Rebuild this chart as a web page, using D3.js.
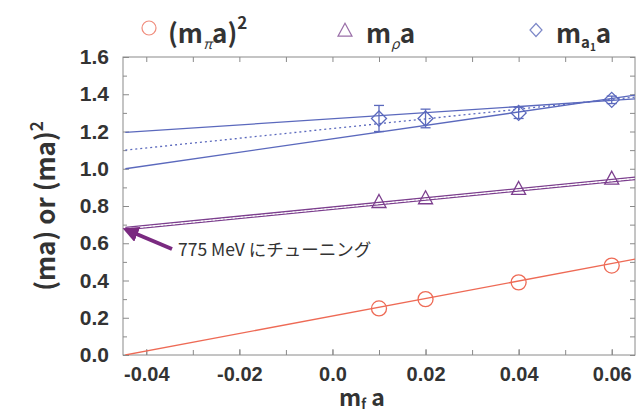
<!DOCTYPE html>
<html>
<head>
<meta charset="utf-8">
<script src="https://cdn.jsdelivr.net/npm/d3@7"></script>
<style>
  body { margin: 0; background: #fff; }
  svg { font-family: "Noto Sans CJK JP", "Noto Sans", sans-serif; }
</style>
</head>
<body>
<svg id="chart" width="641" height="418"></svg>
<script>
// measured points
const mfa = [0.01, 0.02, 0.04, 0.06];
const pionSq = [0.25, 0.30, 0.39, 0.48];
const rho = [0.82, 0.84, 0.89, 0.945];
const a1 = [1.27, 1.27, 1.30, 1.37];
const a1Err = [0.07, 0.05, 0.03, 0.02];

// fit lines (x ends, y ends)
const fitX = [-0.0445, 0.065];
const pionFit = [0, 0.515];
const rhoFitHi = [0.685, 0.955];
const rhoFitLo = [0.672, 0.942];
const rhoFitMid = [0.678, 0.948];
const a1FitHi = [1.195, 1.375];
const a1FitMid = [1.10, 1.385];
const a1FitLo = [1.0, 1.395];

const xTicks = [-0.04, -0.02, 0.0, 0.02, 0.04, 0.06];
const yTicks = [0.0, 0.2, 0.4, 0.6, 0.8, 1.0, 1.2, 1.4, 1.6];

const red = "#ee6a55", purple = "#7c3f8e", blue = "#5b69bd";

const width = 641, height = 418;
const margin = { top: 57, right: 6, bottom: 63, left: 123 };

const svg = d3.select("#chart");

const x = d3.scaleLinear()
  .domain([-0.045, 0.065])
  .range([margin.left, width - margin.right]);
const y = d3.scaleLinear()
  .domain([0, 1.6])
  .range([height - margin.bottom, margin.top]);

svg.append("defs").append("clipPath").attr("id", "clip")
  .append("rect")
  .attr("x", margin.left).attr("y", margin.top)
  .attr("width", width - margin.left - margin.right)
  .attr("height", height - margin.top - margin.bottom);

// minor ticks
const minorX = d3.range(-0.04, 0.0651, 0.01);
const minorY = d3.range(0.1, 1.6, 0.2);
const axisColor = "#8a8a8a";

const styleAxis = g => {
  g.select(".domain").remove();
  g.selectAll(".tick line").attr("stroke", axisColor);
  g.selectAll(".tick text").attr("fill", "#333").attr("font-weight", "bold");
};

const fmtX = d => d === 0 ? "0.0" : d3.format(".2f")(d).replace("−", "-");

svg.append("g")
  .attr("transform", `translate(0,${height - margin.bottom})`)
  .call(d3.axisBottom(x).tickValues(xTicks).tickSize(-6).tickPadding(12)
    .tickFormat(fmtX))
  .call(styleAxis)
  .call(g => g.selectAll(".tick text").attr("font-size", 20));

svg.append("g")
  .attr("transform", `translate(0,${height - margin.bottom})`)
  .call(d3.axisBottom(x).tickValues(minorX).tickSize(-5).tickFormat(""))
  .call(styleAxis);
svg.append("g")
  .attr("transform", `translate(0,${margin.top})`)
  .call(d3.axisTop(x).tickValues(minorX).tickSize(-5).tickFormat(""))
  .call(styleAxis);

svg.append("g")
  .attr("transform", `translate(${margin.left},0)`)
  .call(d3.axisLeft(y).tickValues(yTicks).tickSize(-6).tickPadding(14)
    .tickFormat(d3.format(".1f")))
  .call(styleAxis)
  .call(g => g.selectAll(".tick text").attr("font-size", 21));
svg.append("g")
  .attr("transform", `translate(${margin.left},0)`)
  .call(d3.axisLeft(y).tickValues(minorY).tickSize(-4).tickFormat(""))
  .call(styleAxis);
svg.append("g")
  .attr("transform", `translate(${width - margin.right},0)`)
  .call(d3.axisRight(y).tickValues(yTicks.concat(minorY)).tickSize(-5).tickFormat(""))
  .call(styleAxis);

// frame
svg.append("rect")
  .attr("x", margin.left).attr("y", margin.top)
  .attr("width", width - margin.left - margin.right)
  .attr("height", height - margin.top - margin.bottom)
  .attr("fill", "none").attr("stroke", axisColor).attr("stroke-width", 1);

// axis titles
svg.append("text")
  .attr("transform", "translate(55,206) rotate(-90)")
  .attr("text-anchor", "middle")
  .attr("font-size", 26).attr("font-weight", "bold").attr("fill", "#333")
  .text("(ma) or (ma)")
  .append("tspan").attr("font-size", 17).attr("dy", -12).text("2");

const xt = svg.append("text")
  .attr("x", 362).attr("y", 406)
  .attr("text-anchor", "middle")
  .attr("font-size", 23).attr("font-weight", "bold").attr("fill", "#333");
xt.append("tspan").text("m");
xt.append("tspan").attr("font-size", 13).attr("dy", 3).text("f");
xt.append("tspan").attr("dy", -3).text(" a");

// fit lines
const plot = svg.append("g").attr("clip-path", "url(#clip)");
const fitLine = (ys, color, dash, w) => plot.append("line")
  .attr("x1", x(fitX[0])).attr("y1", y(ys[0]))
  .attr("x2", x(fitX[1])).attr("y2", y(ys[1]))
  .attr("stroke", color).attr("stroke-width", w || 1.3)
  .attr("stroke-dasharray", dash || null);

fitLine(pionFit, red);
fitLine(rhoFitHi, purple);
fitLine(rhoFitLo, purple);
fitLine(rhoFitMid, "#fff", "2,2", 1);
fitLine(a1FitHi, blue);
fitLine(a1FitLo, blue);
fitLine(a1FitMid, blue, "2,3");

// markers
plot.selectAll(".pion").data(mfa).join("circle")
  .attr("cx", d => x(d)).attr("cy", (d, i) => y(pionSq[i]))
  .attr("r", 7.5).attr("fill", "none").attr("stroke", red).attr("stroke-width", 1.3);

const triPath = (w, h) => `M0,${-h * 0.6}L${w / 2},${h * 0.4}L${-w / 2},${h * 0.4}Z`;
plot.selectAll(".rho").data(mfa).join("path")
  .attr("transform", (d, i) => `translate(${x(d)},${y(rho[i])})`)
  .attr("d", triPath(14, 13)).attr("fill", "none").attr("stroke", purple).attr("stroke-width", 1.3);

// error bars on a1
const eb = plot.selectAll(".eb").data(mfa).join("g")
  .attr("stroke", blue).attr("stroke-width", 1.3);
eb.append("line")
  .attr("x1", d => x(d)).attr("x2", d => x(d))
  .attr("y1", (d, i) => y(a1[i] + a1Err[i])).attr("y2", (d, i) => y(a1[i] - a1Err[i]));
[1, -1].forEach(s => eb.append("line")
  .attr("x1", d => x(d) - 5).attr("x2", d => x(d) + 5)
  .attr("y1", (d, i) => y(a1[i] + s * a1Err[i])).attr("y2", (d, i) => y(a1[i] + s * a1Err[i])));

const diaPath = (w, h) => `M0,${-h / 2}L${w / 2},0L0,${h / 2}L${-w / 2},0Z`;
plot.selectAll(".a1").data(mfa).join("path")
  .attr("transform", (d, i) => `translate(${x(d)},${y(a1[i])})`)
  .attr("d", diaPath(15, 15)).attr("fill", "none").attr("stroke", blue).attr("stroke-width", 1.3);

// annotation
svg.append("defs").append("marker")
  .attr("id", "arrow").attr("viewBox", "0 0 10 10")
  .attr("refX", 5).attr("refY", 5)
  .attr("markerWidth", 4).attr("markerHeight", 4)
  .attr("orient", "auto")
  .append("path").attr("d", "M0,0L10,5L0,10Z").attr("fill", "#7a2a80");
svg.append("line")
  .attr("x1", 172).attr("y1", 249)
  .attr("x2", x(-0.0435)).attr("y2", y(0.675) + 2)
  .attr("stroke", "#7a2a80").attr("stroke-width", 4)
  .attr("marker-end", "url(#arrow)");
svg.append("text")
  .attr("x", 178).attr("y", 256)
  .attr("font-size", 17.5).attr("fill", "#333")
  .text("775 MeV にチューニング");

// legend
const lg = svg.append("g").attr("font-weight", "bold").attr("fill", "#333");
lg.append("circle").attr("cx", 149).attr("cy", 28).attr("r", 7)
  .attr("fill", "none").attr("stroke", "#f08c7c").attr("stroke-width", 1.2);
const t1 = lg.append("text").attr("x", 168).attr("y", 43).attr("font-size", 26);
t1.append("tspan").text("(m");
t1.append("tspan").attr("font-size", 14).attr("font-style", "italic").attr("font-weight", "normal").attr("dy", 6).text("π");
t1.append("tspan").attr("dy", -6).text("a)");
t1.append("tspan").attr("font-size", 17).attr("dy", -14).text("2");

lg.append("path").attr("transform", "translate(345,31)")
  .attr("d", triPath(14, 13))
  .attr("fill", "none").attr("stroke", "#9a6fa8").attr("stroke-width", 1.2);
const t2 = lg.append("text").attr("x", 366).attr("y", 43).attr("font-size", 26);
t2.append("tspan").text("m");
t2.append("tspan").attr("font-size", 14).attr("font-style", "italic").attr("font-weight", "normal").attr("dy", 6).text("ρ");
t2.append("tspan").attr("dy", -6).text("a");

lg.append("path").attr("transform", "translate(536,30)")
  .attr("d", diaPath(12, 13))
  .attr("fill", "none").attr("stroke", "#7d88c8").attr("stroke-width", 1.2);
const t3 = lg.append("text").attr("x", 556).attr("y", 43).attr("font-size", 26);
t3.append("tspan").text("m");
t3.append("tspan").attr("font-size", 15).attr("dy", 5).text("a");
t3.append("tspan").attr("font-size", 10).attr("dy", 3).text("1");
t3.append("tspan").attr("dy", -8).text("a");
</script>
</body>
</html>
